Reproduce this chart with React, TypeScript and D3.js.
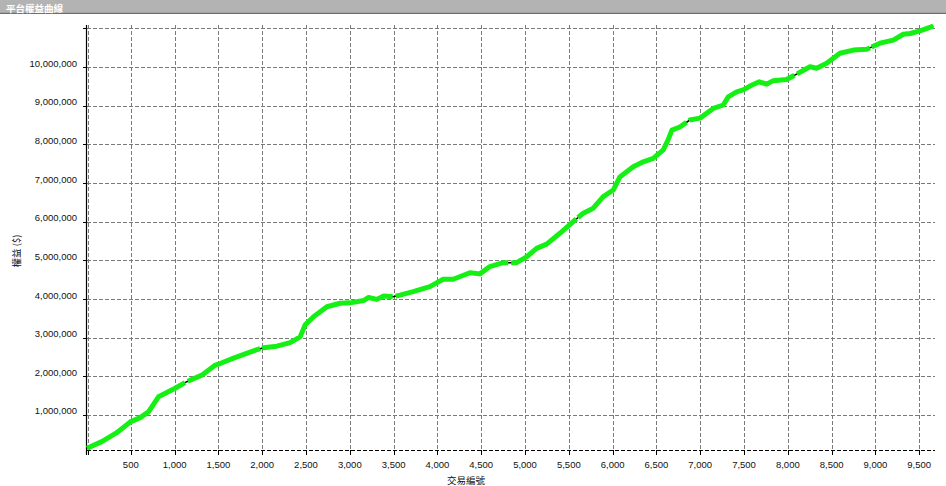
import React, { useEffect, useRef } from 'react';
import * as d3 from 'd3';

// trade number vs. equity ($)
const trades = [
  0, 169, 340, 495, 607, 702, 816, 1006, 1139, 1311, 1465, 1520, 1673, 1901, 2015,
  2167, 2319, 2433, 2490, 2586, 2738, 2890, 3004, 3157, 3214, 3309, 3386, 3495, 3572,
  3723, 3914, 4066, 4180, 4371, 4485, 4599, 4751, 4904, 5018, 5132, 5247, 5398, 5550,
  5665, 5779, 5893, 6007, 6083, 6235, 6350, 6464, 6578, 6632, 6677, 6768, 6880, 6997,
  7149, 7263, 7320, 7416, 7491, 7568, 7674, 7759, 7834, 7987, 8101, 8253, 8329, 8443,
  8595, 8748, 8900, 9052, 9204, 9318, 9395, 9509, 9661,
];
const equity = [
  140000, 310000, 540000, 820000, 930000, 1080000, 1470000, 1690000, 1860000, 2030000,
  2290000, 2330000, 2470000, 2660000, 2740000, 2780000, 2870000, 3020000, 3330000,
  3540000, 3800000, 3890000, 3900000, 3960000, 4040000, 3990000, 4080000, 4060000,
  4100000, 4190000, 4320000, 4510000, 4510000, 4680000, 4650000, 4840000, 4940000,
  4940000, 5090000, 5310000, 5420000, 5700000, 6000000, 6220000, 6350000, 6650000,
  6820000, 7160000, 7420000, 7550000, 7640000, 7860000, 8110000, 8370000, 8450000,
  8630000, 8680000, 8930000, 9020000, 9230000, 9360000, 9410000, 9510000, 9620000,
  9560000, 9650000, 9680000, 9820000, 10010000, 9970000, 10100000, 10360000, 10440000,
  10460000, 10620000, 10700000, 10850000, 10870000, 10940000, 11060000,
];
const xTicks = [500, 1000, 1500, 2000, 2500, 3000, 3500, 4000, 4500, 5000, 5500, 6000, 6500, 7000, 7500, 8000, 8500, 9000, 9500];
const yTicks = [1000000, 2000000, 3000000, 4000000, 5000000, 6000000, 7000000, 8000000, 9000000, 10000000, 11000000];
const yLabelTicks = yTicks.slice(0, 10);

const title = '平台權益曲線';
const xTitle = '交易編號';
const yTitle = '權益 ($)';

export default function App() {
  const svgRef = useRef<SVGSVGElement>(null);

  useEffect(() => {
    const svg = d3.select(svgRef.current);
    svg.selectAll('*').remove();

    const W = 946;
    const H = 486;
    const left = 87, right = 935, top = 25, bottom = 450;

    svg.attr('width', W).attr('height', H);

    const x = d3.scaleLinear().domain([0, 9680]).range([left, right]);
    const y = d3.scaleLinear().domain([93000, 11090000]).range([bottom, top]);

    // title bar
    svg.append('rect').attr('x', 0).attr('y', 0).attr('width', W).attr('height', 12.5).attr('fill', '#b3b3b3');
    svg.append('rect').attr('x', 0).attr('y', 12.5).attr('width', W).attr('height', 1.5).attr('fill', '#6e6e6e');
    svg.append('text')
      .attr('x', 6).attr('y', 11.5)
      .style('font-family', '"Noto Sans CJK TC", sans-serif')
      .style('font-size', '9.5px')
      .style('font-weight', 'bold')
      .style('fill', '#ffffff')
      .text(title);

    const grid = svg.append('g')
      .attr('stroke', '#7a7a7a')
      .attr('stroke-width', 1)
      .attr('stroke-dasharray', '4,2');

    // vertical grid
    grid.selectAll('.vg')
      .data([0, ...xTicks])
      .enter()
      .append('line')
      .attr('x1', d => Math.round(x(d)) + (d === 0 ? 1.5 : 0.5))
      .attr('x2', d => Math.round(x(d)) + (d === 0 ? 1.5 : 0.5))
      .attr('y1', top)
      .attr('y2', bottom);

    // horizontal grid
    grid.selectAll('.hg')
      .data(yTicks)
      .enter()
      .append('line')
      .attr('x1', left)
      .attr('x2', right)
      .attr('y1', d => Math.round(y(d)) + 0.5)
      .attr('y2', d => Math.round(y(d)) + 0.5);

    // bottom axis (dashed black)
    svg.append('line')
      .attr('x1', left).attr('x2', right)
      .attr('y1', bottom + 0.5).attr('y2', bottom + 0.5)
      .attr('stroke', '#000')
      .attr('stroke-dasharray', '4,2');

    svg.selectAll('.xt')
      .data([0, ...xTicks])
      .enter()
      .append('line')
      .attr('x1', d => Math.round(x(d)) + (d === 0 ? 1.5 : 0.5))
      .attr('x2', d => Math.round(x(d)) + (d === 0 ? 1.5 : 0.5))
      .attr('y1', bottom)
      .attr('y2', bottom + 5)
      .attr('stroke', '#000');

    // left axis
    svg.append('line')
      .attr('x1', left - 0.5).attr('x2', left - 0.5)
      .attr('y1', top).attr('y2', bottom + 5)
      .attr('stroke', '#000')
      .attr('stroke-width', 1.2);

    svg.selectAll('.yt')
      .data(yTicks)
      .enter()
      .append('line')
      .attr('x1', left - 4)
      .attr('x2', left)
      .attr('y1', d => Math.round(y(d)) + 0.5)
      .attr('y2', d => Math.round(y(d)) + 0.5)
      .attr('stroke', '#000');

    const fmt = d3.format(',');

    svg.selectAll('.xl')
      .data(xTicks)
      .enter()
      .append('text')
      .attr('x', d => x(d))
      .attr('y', 468)
      .style('text-anchor', 'middle')
      .style('font-family', '"Liberation Sans", Arial, sans-serif')
      .style('font-size', '9.5px')
      .style('fill', '#111')
      .text(d => fmt(d));

    svg.selectAll('.yl')
      .data(yLabelTicks)
      .enter()
      .append('text')
      .attr('x', 77)
      .attr('y', d => y(d) - 0.5)
      .style('text-anchor', 'end')
      .style('font-family', '"Liberation Sans", Arial, sans-serif')
      .style('font-size', '9.5px')
      .style('fill', '#111')
      .text(d => fmt(d));

    // axis titles
    svg.append('text')
      .attr('x', 466).attr('y', 484)
      .style('text-anchor', 'middle')
      .style('font-family', '"Noto Sans CJK TC", sans-serif')
      .style('font-size', '9.5px')
      .style('fill', '#111')
      .text(xTitle);

    svg.append('text')
      .attr('transform', 'translate(20,251) rotate(-90)')
      .style('text-anchor', 'middle')
      .style('font-family', '"Noto Sans CJK TC", sans-serif')
      .style('font-size', '9.5px')
      .style('fill', '#111')
      .text(yTitle);

    // equity curve
    const pts = trades.map((t, i) => ({ t, v: equity[i] }));
    const line = d3.line<{ t: number; v: number }>()
      .x(d => x(d.t))
      .y(d => y(d.v));

    svg.append('path')
      .datum(pts)
      .attr('d', line)
      .attr('fill', 'none')
      .attr('stroke', '#000')
      .attr('stroke-width', 1.5);

    svg.append('path')
      .datum(pts)
      .attr('d', line)
      .attr('fill', 'none')
      .attr('stroke', '#14f014')
      .attr('stroke-width', 5)
      .attr('stroke-linejoin', 'round')
      .attr('stroke-dasharray', '120,3,80,2,150,3');
  }, []);

  return (
    <div style={{ position: 'absolute', left: 0, top: 0 }}>
      <svg ref={svgRef} style={{ display: 'block' }}></svg>
    </div>
  );
}
